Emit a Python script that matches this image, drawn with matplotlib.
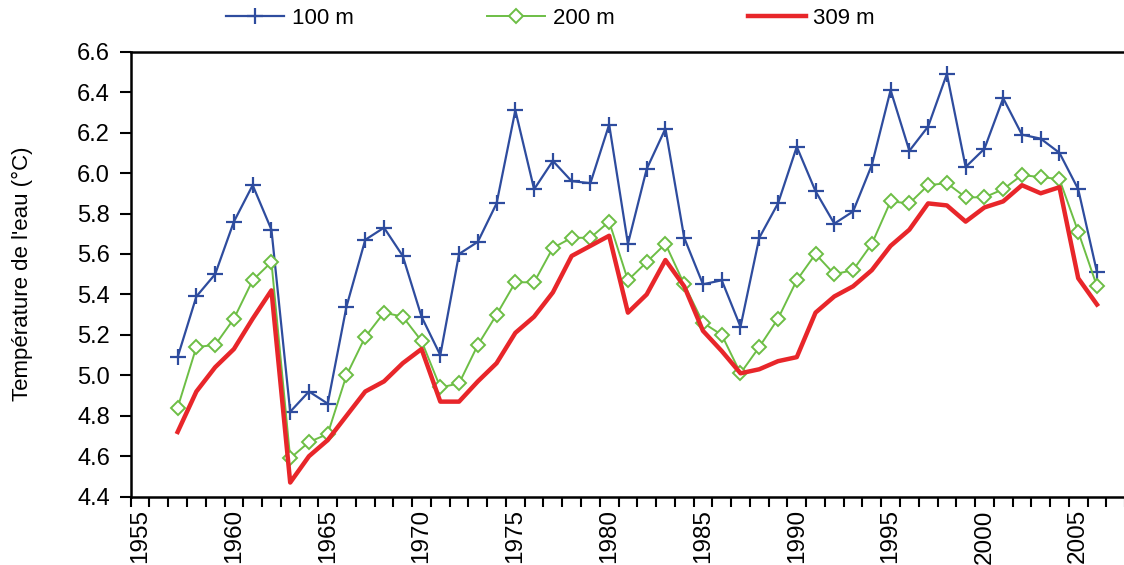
import numpy as np
import matplotlib
matplotlib.use("Agg")
import matplotlib.pyplot as plt
from matplotlib.ticker import FixedLocator, FormatStrFormatter

plt.rcParams["font.family"] = ["Liberation Sans", "DejaVu Sans"]

# =========================
# Data
# =========================
years = list(range(1957, 2007))

temp_100m = [5.09, 5.39, 5.50, 5.76, 5.94, 5.72, 4.82, 4.92, 4.86, 5.34,
             5.67, 5.73, 5.59, 5.29, 5.10, 5.60, 5.66, 5.85, 6.31, 5.92,
             6.06, 5.96, 5.95, 6.24, 5.65, 6.02, 6.22, 5.68, 5.45, 5.47,
             5.24, 5.68, 5.85, 6.13, 5.91, 5.75, 5.81, 6.04, 6.41, 6.11,
             6.23, 6.49, 6.03, 6.12, 6.37, 6.19, 6.17, 6.10, 5.92, 5.51]

temp_200m = [4.84, 5.14, 5.15, 5.28, 5.47, 5.56, 4.59, 4.67, 4.71, 5.00,
             5.19, 5.31, 5.29, 5.17, 4.94, 4.96, 5.15, 5.30, 5.46, 5.46,
             5.63, 5.68, 5.68, 5.76, 5.47, 5.56, 5.65, 5.45, 5.26, 5.20,
             5.01, 5.14, 5.28, 5.47, 5.60, 5.50, 5.52, 5.65, 5.86, 5.85,
             5.94, 5.95, 5.88, 5.88, 5.92, 5.99, 5.98, 5.97, 5.71, 5.44]

temp_309m = [4.72, 4.92, 5.04, 5.13, 5.28, 5.42, 4.47, 4.60, 4.68, 4.80,
             4.92, 4.97, 5.06, 5.13, 4.87, 4.87, 4.97, 5.06, 5.21, 5.29,
             5.41, 5.59, 5.64, 5.69, 5.31, 5.40, 5.57, 5.44, 5.22, 5.12,
             5.01, 5.03, 5.07, 5.09, 5.31, 5.39, 5.44, 5.52, 5.64, 5.72,
             5.85, 5.84, 5.76, 5.83, 5.86, 5.94, 5.90, 5.93, 5.48, 5.35]

labels = ["100 m", "200 m", "309 m"]
y_ticks = [4.4, 4.6, 4.8, 5.0, 5.2, 5.4, 5.6, 5.8, 6.0, 6.2, 6.4, 6.6]
x_label_years = [1955, 1960, 1965, 1970, 1975, 1980, 1985, 1990, 1995, 2000, 2005]

# =========================
# Figure
# =========================
fig = plt.figure(figsize=(11.24, 5.65), dpi=100)
ax = fig.add_axes([0.1163, 0.1209, 0.8847, 0.7876])

ax.plot(years, temp_100m, color="#2E4C9E", lw=1.6, marker="+",
        markersize=12, mew=1.6, label=labels[0])
ax.plot(years, temp_200m, color="#6DBE45", lw=1.4, marker="D",
        markersize=7, mew=1.4, markerfacecolor="white", label=labels[1])
ax.plot(years, temp_309m, color="#E8262A", lw=3.2, label=labels[2])

ax.set_xlim(1954.5, 2007.5)
ax.set_ylim(4.4, 6.6)

# category style x axis: tick marks at boundaries, labels at centres
ax.xaxis.set_major_locator(FixedLocator(x_label_years))
ax.xaxis.set_minor_locator(FixedLocator(np.arange(1954.5, 2008, 1.0)))
ax.tick_params(axis="x", which="major", length=0, pad=9,
               labelsize=17.5, labelrotation=90)
ax.tick_params(axis="x", which="minor", length=7, width=1.5, direction="out")

ax.set_yticks(y_ticks)
ax.yaxis.set_major_formatter(FormatStrFormatter("%.1f"))
ax.tick_params(axis="y", length=8, width=1.5, direction="out",
               labelsize=17, pad=7)

for side in ["left", "bottom", "top"]:
    ax.spines[side].set_linewidth(1.8)
ax.spines["right"].set_visible(False)

ax.set_ylabel("Température de l'eau (°C)", fontsize=16)
ax.yaxis.set_label_coords(-0.098, 0.5)

fig.legend(loc="center", bbox_to_anchor=(0.49, 0.968), ncol=3,
           frameon=False, fontsize=16, handlelength=2.6,
           handletextpad=0.35, columnspacing=6.0)

fig.savefig("out.png", dpi=100)
